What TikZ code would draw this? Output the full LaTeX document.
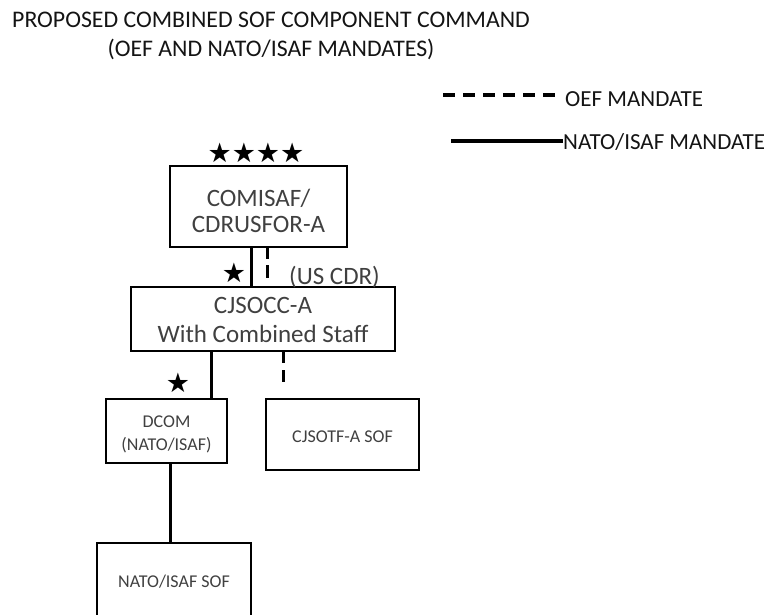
\documentclass[tikz,border=0pt]{standalone}
\usepackage{fontspec}
\setmainfont{Carlito}
\newfontfamily\symfont{DejaVu Sans}
\definecolor{boxtext}{HTML}{404040}
\definecolor{inktext}{HTML}{141414}
\tikzset{
  box/.style={draw=black, line width=2.4pt, inner sep=0pt, outer sep=0pt},
  bigtext/.style={text=boxtext, align=center, inner sep=0pt, font=\fontsize{25}{#1}\selectfont},
  smalltext/.style={text=boxtext, align=center, inner sep=0pt, font=\fontsize{18}{#1}\selectfont},
  legendtext/.style={text=inktext, inner sep=0pt, font=\fontsize{23}{27}\selectfont},
  titletext/.style={text=inktext, align=center, inner sep=0pt, font=\fontsize{23.8}{29}\selectfont},
  starsym/.style={inner sep=0pt, font=\symfont\fontsize{27}{27}\selectfont},
  mandate/.style={draw=black, line width=3pt},
  oef/.style={draw=black, line width=3pt, dash pattern=on 12pt off 7pt},
}
\begin{document}
\begin{tikzpicture}[x=1pt,y=-1pt]
\useasboundingbox (0,0) rectangle (778,614);
\clip (0,0) rectangle (778,614);

% title (base anchor = baseline of the last line)
\node[titletext, anchor=base] (title) at (271,56.5)
  {PROPOSED COMBINED SOF COMPONENT COMMAND\\(OEF AND NATO/ISAF MANDATES)};

% legend
\coordinate (oefL) at (443,95);
\coordinate (oefR) at (556,95);
\draw[oef, line width=3.4pt, dash pattern=on 12pt off 8pt] (oefL) -- (oefR);
\node[legendtext, anchor=base west] (oeftext) at (565,106) {OEF MANDATE};
\coordinate (natoL) at (451,141);
\coordinate (natoR) at (563,141);
\draw[mandate, line width=3.4pt] (natoL) -- (natoR);
\node[legendtext, anchor=base west] (natotext) at (563,149) {NATO/ISAF MANDATE};

% boxes
\node[box, minimum width=177pt, minimum height=81pt] (comisaf) at (258.5,206.5) {};
\node[bigtext=26, anchor=base] (comisaft) at (258.5,232) {COMISAF/\\CDRUSFOR-A};

\node[box, minimum width=264pt, minimum height=64pt] (cjsocc) at (263,319) {};
\node[bigtext=29, anchor=base] (cjsocct) at (263,342) {CJSOCC-A\\With Combined Staff};

\node[box, minimum width=121pt, minimum height=64pt] (dcom) at (166.5,431) {};
\node[smalltext=23, anchor=base] (dcomt) at (166.5,450) {DCOM\\(NATO/ISAF)};

\node[box, minimum width=153pt, minimum height=71pt] (cjsotf) at (342.5,434.5) {};
\node[smalltext=22, anchor=base] (cjsotft) at (342.5,442) {CJSOTF-A SOF};

\node[box, minimum width=154pt, minimum height=74pt] (natosof) at (174,580) {};
\node[smalltext=22, anchor=base] (natosoft) at (174,587) {NATO/ISAF SOF};

% stars and labels
\node[starsym] (stars4) at (256,153) {★★★★};
\node[starsym] (star1) at (234,273) {★};
\node[starsym] (star2) at (178,383) {★};
\node[bigtext=26, anchor=base] (uscdr) at (334.5,284) {(US CDR)};

% connectors
\draw[mandate] ([xshift=-7.5pt]comisaf.south) -- ([xshift=-7.5pt]comisaf.south |- cjsocc.north);
\draw[oef, dash pattern=on 12pt off 6pt on 13pt off 9pt] ([xshift=8.5pt]comisaf.south) -- ([xshift=8.5pt]comisaf.south |- cjsocc.north);
\draw[mandate] ([xshift=-52pt]cjsocc.south) -- ([xshift=-52pt]cjsocc.south |- dcom.north);
\coordinate (oefend) at (283,383);
\draw[oef] (cjsocc.south -| oefend) -- (oefend);
\draw[mandate] ([xshift=4pt]dcom.south) -- ([xshift=4pt]dcom.south |- natosof.north);
\end{tikzpicture}
\end{document}
